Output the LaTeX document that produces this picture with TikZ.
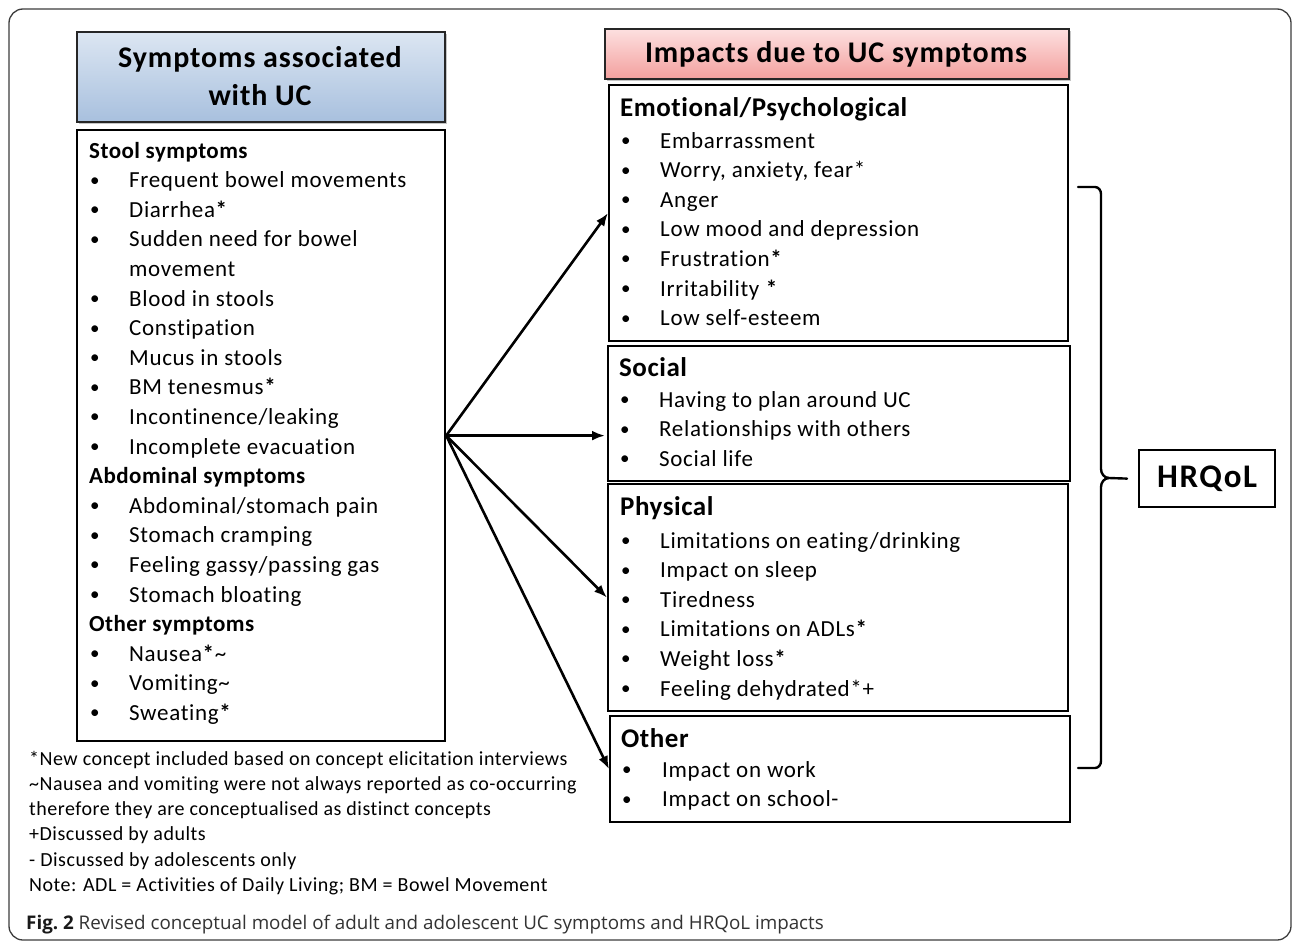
\documentclass[tikz,border=0pt]{standalone}
\usepackage{fontspec}
\setmainfont{Carlito}[Ligatures=CommonOff]
\newfontfamily\capfont{Open Sans}
\usetikzlibrary{arrows.meta,shadows}
\definecolor{blueTop}{HTML}{DCE6F2}
\definecolor{blueBot}{HTML}{A8C0DE}
\definecolor{redTop}{HTML}{FDE0E0}
\definecolor{redBot}{HTML}{F3A09E}
\definecolor{frameGray}{HTML}{3C3C3C}
\definecolor{capGray}{HTML}{333333}
\newcommand{\bulmark}{{\fontsize{19}{22}\selectfont\raisebox{1.5pt}{\textbullet}}}
\begin{document}
\begin{tikzpicture}[x=1pt,y=-1pt,
  box/.style={draw=black, line width=2.2pt, anchor=north west, inner sep=0pt},
  titlebox/.style={draw=black!85, line width=1.6pt, anchor=north west, inner sep=0pt,
     drop shadow={shadow xshift=2pt, shadow yshift=-2pt, opacity=0.45}},
  titletxt/.style={anchor=base, inner sep=0pt, font=\fontsize{30}{34}\selectfont\bfseries\addfontfeatures{LetterSpace=3}},
  headL/.style={anchor=base west, inner sep=0pt, font=\fontsize{23}{27}\selectfont\bfseries\addfontfeatures{LetterSpace=2}},
  headR/.style={anchor=base west, inner sep=0pt, font=\fontsize{27}{30}\selectfont\bfseries\addfontfeatures{LetterSpace=2}},
  itm/.style={anchor=base west, inner sep=0pt, font=\fontsize{23}{27}\selectfont\addfontfeatures{LetterSpace=3}},
  bul/.style={anchor=base west, inner sep=0pt},
  note/.style={anchor=base west, inner sep=0pt, font=\fontsize{20}{24}\selectfont\addfontfeatures{LetterSpace=2.5}},
  arr/.style={line width=2.6pt, -{Latex[length=13pt,width=10pt]}},
  brace/.style={line width=2.4pt, line cap=round, line join=round}]
\useasboundingbox (0,0) rectangle (1292,942);
\fill[white] (0,0) rectangle (1292,942);
% outer frame
\draw[frameGray, line width=1.3pt, rounded corners=14pt] (9,9) rectangle (1291,940);

% left column
\node[titlebox, top color=blueTop, bottom color=blueBot, minimum width=368pt, minimum height=90pt] (ltitle) at (76,31) {};
\node[titletxt] (lt1) at (260,67) {Symptoms associated};
\node[titletxt] (lt2) at (260,105) {with UC};
\node[box, minimum width=368pt, minimum height=611pt] (lbox) at (76,129) {};

\node[headL] (lh0) at (89,158) {Stool symptoms};
\node[headL] (lh11) at (89,{158+29.6*11}) {Abdominal symptoms};
\node[headL] (lh16) at (89,{158+29.6*16}) {Other symptoms};
\foreach \i/\t in {1/{Frequent bowel movements}, 2/{Diarrhea\textbf{*}}, 3/{Sudden need for bowel},
   5/{Blood in stools}, 6/{Constipation}, 7/{Mucus in stools}, 8/{BM tenesmus\textbf{*}},
   9/{Incontinence/leaking}, 10/{Incomplete evacuation}, 12/{Abdominal/stomach pain},
   13/{Stomach cramping}, 14/{Feeling gassy/passing gas}, 15/{Stomach bloating},
   17/{Nausea\textbf{*}\textasciitilde}, 18/{Vomiting\textasciitilde}, 19/{Sweating\textbf{*}}}{
  \node[bul] (lb\i) at (90,{158+29.6*\i}) {\bulmark};
  \node[itm] (li\i) at (129,{158+29.6*\i}) {\t};
}
\node[itm] (li4) at (129,{158+29.6*4}) {movement};

% right column
\node[titlebox, top color=redTop, bottom color=redBot, minimum width=464pt, minimum height=50pt] (rtitle) at (604,28) {};
\node[titletxt] (rt) at (836,63) {Impacts due to UC symptoms};

\node[box, minimum width=459pt, minimum height=256pt] (emo) at (608,84) {};
\node[headR] (emoh) at (620,116) {Emotional/Psychological};
\foreach \t [count=\i from 0] in {Embarrassment, {Worry, anxiety, fear*}, Anger, Low mood and depression,
   Frustration\textbf{*}, Irritability \textbf{*}, Low self-esteem}{
  \node[bul] (eb\i) at (621,{148+29.6*\i}) {\bulmark};
  \node[itm] (ei\i) at (660,{148+29.6*\i}) {\t};
}

\node[box, minimum width=462pt, minimum height=135pt] (soc) at (607,345) {};
\node[headR] (soch) at (619,376) {Social};
\foreach \t [count=\i from 0] in {Having to plan around UC, Relationships with others, Social life}{
  \node[bul] (sb\i) at (620,{407+29.6*\i}) {\bulmark};
  \node[itm] (si\i) at (659,{407+29.6*\i}) {\t};
}

\node[box, minimum width=460pt, minimum height=227pt] (phy) at (607,483) {};
\node[headR] (phyh) at (620,515) {Physical};
\foreach \t [count=\i from 0] in {Limitations on eating/drinking, Impact on sleep, Tiredness,
   Limitations on ADLs\textbf{*}, Weight loss\textbf{*}, Feeling dehydrated*+}{
  \node[bul] (pb\i) at (621,{548+29.6*\i}) {\bulmark};
  \node[itm] (pi\i) at (660,{548+29.6*\i}) {\t};
}

\node[box, minimum width=460pt, minimum height=106pt] (oth) at (609,715) {};
\node[headR] (othh) at (621,747) {Other};
\foreach \t [count=\i from 0] in {Impact on work, Impact on school-}{
  \node[bul] (ob\i) at (622,{777+29.6*\i}) {\bulmark};
  \node[itm] (oi\i) at (662,{777+29.6*\i}) {\t};
}

% HRQoL
\node[box, minimum width=136pt, minimum height=57pt] (hrq) at (1138,449) {};
\node[inner sep=0pt, font=\fontsize{33}{36}\selectfont\bfseries\addfontfeatures{LetterSpace=5}] (hrqt) at (hrq.center) {HRQoL};

% arrows
\draw[arr] (lbox.east) -- (emo.west);
\draw[arr, shorten >=2pt] (lbox.east) -- (lbox.east -| soc.west);
\draw[arr] (lbox.east) -- (phy.west);
\draw[arr] (lbox.east) -- (oth.west);

% brace
\draw[brace] (1078,187) -- (1095,187) to[out=0,in=90] (1101,194) -- (1101,469)
   to[out=-90,in=180] (1109,478) -- ([xshift=-11pt]hrq.west);
\draw[brace] (1078,768) -- (1095,768) to[out=0,in=-90] (1101,761) -- (1101,487)
   to[out=90,in=180] (1109,478);

% notes
\foreach \t [count=\i from 0] in {*New concept included based on concept elicitation interviews,
   \textasciitilde Nausea and vomiting were not always reported as co-occurring,
   therefore they are conceptualised as distinct concepts,
   +Discussed by adults, - Discussed by adolescents only,
   Note: ADL = Activities of Daily Living; BM = Bowel Movement}{
  \node[note] (n\i) at (29,{765+25.3*\i}) {\t};
}

% caption
\node[anchor=base west, inner sep=0pt, font=\fontsize{18.8}{23}\selectfont\capfont, text=capGray] (cap) at (26,929)
  {\textcolor{black!90}{\bfseries Fig.~2} Revised conceptual model of adult and adolescent UC symptoms and HRQoL impacts};
\end{tikzpicture}
\end{document}
